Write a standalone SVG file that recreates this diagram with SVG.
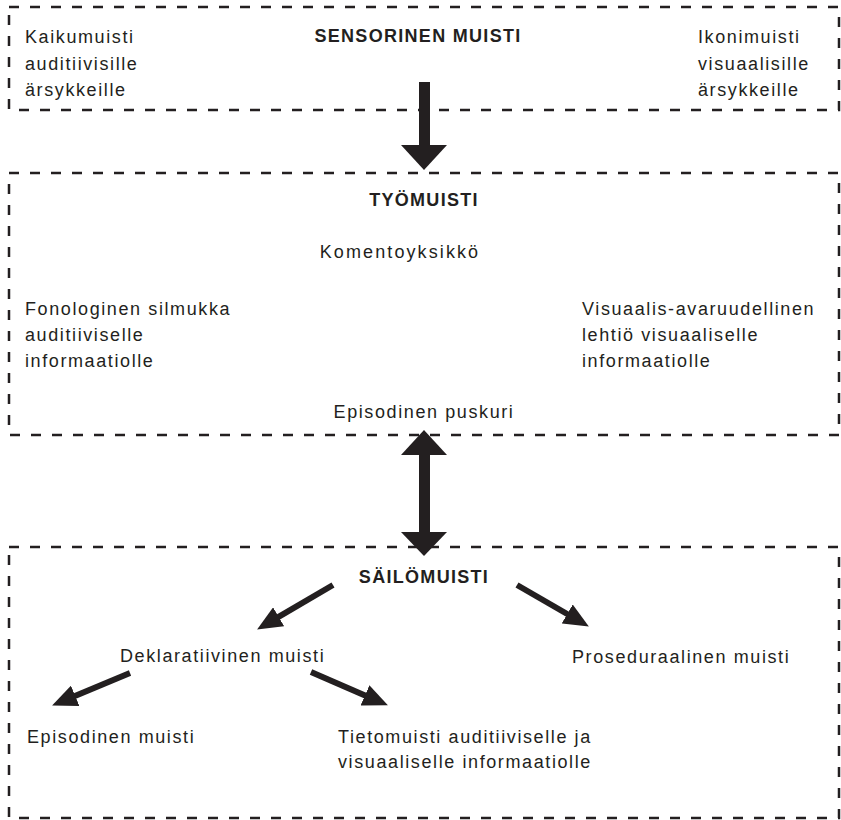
<svg xmlns="http://www.w3.org/2000/svg" width="841" height="820" viewBox="0 0 841 820">
<style>
.box{fill:none;stroke:#231f20;stroke-width:2.5;stroke-dasharray:10 11}
.t{font-family:"Liberation Sans",Arial,sans-serif;font-size:18px;fill:#231f20;letter-spacing:1.6px}
.b{font-family:"Liberation Sans",Arial,sans-serif;font-size:18px;font-weight:bold;fill:#231f20;letter-spacing:1.3px}
.c{text-anchor:middle}
.sh{stroke:#231f20;stroke-width:6;fill:none}
.ah{fill:#231f20}
</style>
<defs>
<marker id="hd" markerUnits="userSpaceOnUse" markerWidth="25" markerHeight="22" refX="12" refY="11" orient="auto" viewBox="0 0 25 22">
<path d="M0,0 L25,11 L0,22 z" fill="#231f20"/>
</marker>
</defs>
<g id="sensorinen">
<rect class="box" x="9" y="7" width="830" height="103"/>
<text class="b c" x="418" y="42">SENSORINEN MUISTI</text>
<text class="t" x="25" y="43">Kaikumuisti</text>
<text class="t" x="25" y="70">auditiivisille</text>
<text class="t" x="25" y="96">ärsykkeille</text>
<text class="t" x="698" y="43">Ikonimuisti</text>
<text class="t" x="698" y="70">visuaalisille</text>
<text class="t" x="698" y="96">ärsykkeille</text>
</g>
<g id="tyomuisti">
<rect class="box" x="9" y="173" width="830" height="262"/>
<text class="b c" x="424" y="206">TYÖMUISTI</text>
<text class="t c" x="400" y="258" style="letter-spacing:2.1px">Komentoyksikkö</text>
<text class="t" x="25" y="315">Fonologinen silmukka</text>
<text class="t" x="25" y="341">auditiiviselle</text>
<text class="t" x="25" y="367">informaatiolle</text>
<text class="t" x="582" y="315">Visuaalis-avaruudellinen</text>
<text class="t" x="582" y="341">lehtiö visuaaliselle</text>
<text class="t" x="582" y="367">informaatiolle</text>
<text class="t c" x="424" y="418">Episodinen puskuri</text>
</g>
<g id="sailomuisti">
<rect class="box" x="9" y="547" width="830" height="271"/>
<text class="b c" x="424" y="583">SÄILÖMUISTI</text>
<text class="t" x="120" y="662">Deklaratiivinen muisti</text>
<text class="t" x="572" y="663">Proseduraalinen muisti</text>
<text class="t" x="27" y="743">Episodinen muisti</text>
<text class="t" x="338" y="743">Tietomuisti auditiiviselle ja</text>
<text class="t" x="338" y="768">visuaaliselle informaatiolle</text>
</g>
<g id="connectors">
<rect class="ah" x="419" y="82" width="11" height="64"/>
<polygon class="ah" points="401,145 447,145 424,170"/>
<rect class="ah" x="419" y="454" width="11" height="79"/>
<polygon class="ah" points="424,430 447,455 401,455"/>
<polygon class="ah" points="401,532 447,532 424,556"/>
<line class="sh" x1="333" y1="585" x2="268.3" y2="622.9" marker-end="url(#hd)"/>
<line class="sh" x1="517" y1="585" x2="577.6" y2="620" marker-end="url(#hd)"/>
<line class="sh" x1="130" y1="673" x2="64.1" y2="700.4" marker-end="url(#hd)"/>
<line class="sh" x1="311" y1="672" x2="376" y2="700.2" marker-end="url(#hd)"/>
</g>
</svg>
